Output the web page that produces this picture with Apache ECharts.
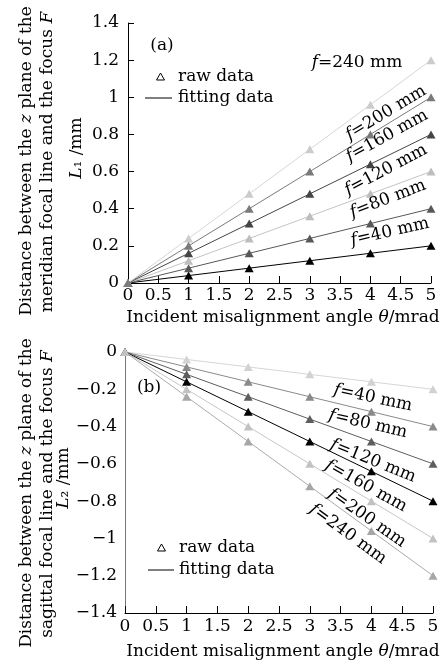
<!DOCTYPE html>
<html><head><meta charset="utf-8">
<script src="https://cdn.jsdelivr.net/npm/echarts@6/dist/echarts.min.js"></script>
<style>html,body{margin:0;padding:0;background:#fff}#c{width:448px;height:662px}</style>
</head><body><div id="c"></div>
<script>
// ---- data ----
const theta = [0, 1, 2, 3, 4, 5];
const fitTheta = [0, 5];
const focalLabels = ['40', '80', '120', '160', '200', '240'];
// panel (a): L1 raw data
const a40 = [0, 0.04, 0.08, 0.12, 0.16, 0.20];
const a80 = [0, 0.08, 0.16, 0.24, 0.32, 0.40];
const a120 = [0, 0.12, 0.24, 0.36, 0.48, 0.60];
const a160 = [0, 0.16, 0.32, 0.48, 0.64, 0.80];
const a200 = [0, 0.20, 0.40, 0.60, 0.80, 1.00];
const a240 = [0, 0.24, 0.48, 0.72, 0.96, 1.20];
// panel (a): fitting line values at theta 0 and 5
const aFit40 = [0, 0.20], aFit80 = [0, 0.40], aFit120 = [0, 0.60];
const aFit160 = [0, 0.80], aFit200 = [0, 1.00], aFit240 = [0, 1.20];
// panel (b): L2 raw data
const b40 = [0, -0.04, -0.08, -0.12, -0.16, -0.20];
const b80 = [0, -0.08, -0.16, -0.24, -0.32, -0.40];
const b120 = [0, -0.12, -0.24, -0.36, -0.48, -0.60];
const b160 = [0, -0.16, -0.32, -0.48, -0.64, -0.80];
const b200 = [0, -0.20, -0.40, -0.60, -0.80, -1.00];
const b240 = [0, -0.24, -0.48, -0.72, -0.96, -1.20];
const bFit40 = [0, -0.20], bFit80 = [0, -0.40], bFit120 = [0, -0.60];
const bFit160 = [0, -0.80], bFit200 = [0, -1.00], bFit240 = [0, -1.20];

const rawA = [a40, a80, a120, a160, a200, a240];
const fitA = [aFit40, aFit80, aFit120, aFit160, aFit200, aFit240];
const rawB = [b40, b80, b120, b160, b200, b240];
const fitB = [bFit40, bFit80, bFit120, bFit160, bFit200, bFit240];

// ---- styles ----
const FONT = 'DejaVu Serif';
const FS = 17;
const colA = ['#000000', '#585858', '#bdbdbd', '#454545', '#7a7a7a', '#cccccc'];
const lineColA = ['#000000', '#585858', '#c4c4c4', '#454545', '#7a7a7a', '#d6d6d6'];
const colB = ['#d2d2d2', '#8a8a8a', '#5e5e5e', '#000000', '#c2c2c2', '#a6a6a6'];
const lineColB = ['#d6d6d6', '#8a8a8a', '#5e5e5e', '#000000', '#c6c6c6', '#ababab'];

const pair = (xs, ys) => xs.map((x, i) => [x, ys[i]]);

function xAxis(gi, margin) {
  return {
    type: 'value', gridIndex: gi, min: 0, max: 5, interval: 0.5,
    axisLine: { show: true, onZero: false, lineStyle: { color: '#000', width: 1 } },
    axisTick: { show: true, inside: true, length: 7, lineStyle: { color: '#000' } },
    axisLabel: { color: '#000', fontFamily: FONT, fontSize: FS, margin: margin },
    splitLine: { show: false }
  };
}

const series = [];
function addPanel(raw, fit, col, lcol, gi) {
  for (let k = 0; k < raw.length; k++) {
    series.push({
      type: 'line', xAxisIndex: gi, yAxisIndex: gi, data: pair(fitTheta, fit[k]),
      symbol: 'none', lineStyle: { color: lcol[k], width: 1 }, z: 2, silent: true, animation: false
    });
  }
  for (let k = 0; k < raw.length; k++) {
    series.push({
      type: 'scatter', xAxisIndex: gi, yAxisIndex: gi, data: pair(theta, raw[k]),
      symbol: 'triangle', symbolSize: [9, 8], itemStyle: { color: col[k], opacity: 1 },
      z: k === 4 ? 5 : 4, animation: false
    });
  }
}
addPanel(rawA, fitA, colA, lineColA, 0);
addPanel(rawB, fitB, colB, lineColB, 1);

function txt(x, y, text, rot, align) {
  return {
    type: 'text', x: x, y: y, rotation: rot || 0, z: 100,
    style: {
      text: text, fill: '#000',
      fontFamily: FONT, fontSize: FS, align: align || 'center', verticalAlign: 'middle',
      rich: {
        i: { fontStyle: 'italic', fontFamily: FONT, fontSize: FS, fill: '#000' },
        n: { fontFamily: FONT, fontSize: FS, fill: '#000' }
      }
    }
  };
}
const deg = d => d * Math.PI / 180;
const flab = s => '{i|f}{n|=' + s + ' mm}';

const graphic = [
  // panel (a) y title
  txt(27, 161, '{n|Distance between the }{i|z}{n| plane of the}', deg(90)),
  txt(48, 162, '{n|meridian focal line and the focus }{i|F}', deg(90)),
  txt(77, 148, '{i|L}{n|₁ /mm}', deg(90)),
  txt(283, 318, '{n|Incident misalignment angle }{i|θ}{n|/mrad}', 0),
  txt(162, 46, '(a)', 0),
  // legend (a)
  { type: 'polygon', shape: { points: [[160.5, 73], [156.5, 80], [164.5, 80]] }, style: { fill: 'none', stroke: '#000', lineWidth: 1 }, z: 100 },
  txt(178, 77, 'raw data', 0, 'left'),
  { type: 'line', shape: { x1: 145, y1: 98, x2: 172, y2: 98 }, style: { stroke: '#000', lineWidth: 1 }, z: 100 },
  txt(178, 98, 'fitting data', 0, 'left'),
  // (a) curve labels
  txt(357, 63, flab('240'), 0),
  txt(386, 113, flab('200'), deg(31)),
  txt(387, 136, flab('160'), deg(29)),
  txt(386, 170, flab('120'), deg(28)),
  txt(388, 199, flab('80'), deg(21)),
  txt(390, 232, flab('40'), deg(13)),
  // panel (b)
  txt(27, 493, '{n|Distance between the }{i|z}{n| plane of the}', deg(90)),
  txt(48, 494, '{n|sagittal focal line and the focus }{i|F}', deg(90)),
  txt(64, 478, '{i|L}{n|₂ /mm}', deg(90)),
  txt(283, 652, '{n|Incident misalignment angle }{i|θ}{n|/mrad}', 0),
  txt(149, 388, '(b)', 0),
  { type: 'polygon', shape: { points: [[161.5, 544], [157.5, 551], [165.5, 551]] }, style: { fill: 'none', stroke: '#000', lineWidth: 1 }, z: 100 },
  txt(179, 548, 'raw data', 0, 'left'),
  { type: 'line', shape: { x1: 148, y1: 570, x2: 174, y2: 570 }, style: { stroke: '#000', lineWidth: 1 }, z: 100 },
  txt(179, 570, 'fitting data', 0, 'left'),
  txt(373, 398, flab('40'), deg(-12)),
  txt(368, 424, flab('80'), deg(-13)),
  txt(373, 461, flab('120'), deg(-22)),
  txt(366, 486, flab('160'), deg(-29)),
  txt(367, 518, flab('200'), deg(-35)),
  txt(348, 534, flab('240'), deg(-36))
];

const chart = echarts.init(document.getElementById('c'), null, { renderer: 'canvas' });
chart.setOption({
  backgroundColor: '#fff',
  animation: false,
  grid: [
    { left: 128, right: 17, top: 23, bottom: 379, containLabel: false },
    { left: 125, right: 15, top: 352, bottom: 49, containLabel: false }
  ],
  xAxis: [xAxis(0, 4), xAxis(1, 5)],
  yAxis: [
    {
      type: 'value', gridIndex: 0, min: 0, max: 1.4, interval: 0.2,
      axisLine: { show: true, lineStyle: { color: '#000' } },
      axisTick: { show: true, inside: true, length: 6, lineStyle: { color: '#000' } },
      axisLabel: { color: '#000', fontFamily: FONT, fontSize: FS, margin: 9 },
      splitLine: { show: false }
    },
    {
      type: 'value', gridIndex: 1, min: -1.4, max: 0, interval: 0.2,
      axisLine: { show: true, lineStyle: { color: '#777' } },
      axisTick: { show: false },
      axisLabel: { color: '#000', fontFamily: FONT, fontSize: FS, margin: 8,
        formatter: v => (v < 0 ? '−' + String(Math.round(-v * 10) / 10) : String(v)) },
      splitLine: { show: false }
    }
  ],
  series: series,
  graphic: graphic
});
</script>
</body></html>
